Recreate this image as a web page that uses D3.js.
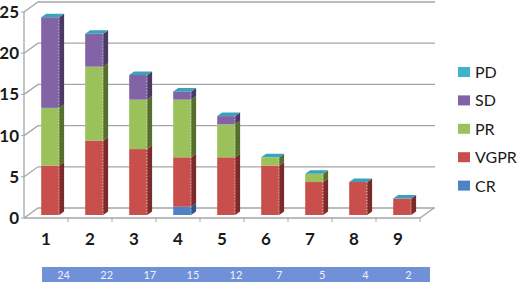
<!DOCTYPE html>
<html>
<head>
<meta charset="utf-8">
<script src="https://cdn.jsdelivr.net/npm/d3@7/dist/d3.min.js"></script>
<style>
  body { margin: 0; background: #fff; }
  svg { display: block; font-family: Lato, "Open Sans", sans-serif; }
</style>
</head>
<body>
<div id="chart"></div>
<script>
// data
var categories = ["1", "2", "3", "4", "5", "6", "7", "8", "9"];
var seriesNames = ["CR", "VGPR", "PR", "SD", "PD"];
var crValues   = [0, 0, 0, 1, 0, 0, 0, 0, 0];
var vgprValues = [6, 9, 8, 6, 7, 6, 4, 4, 2];
var prValues   = [7, 9, 6, 7, 4, 1, 1, 0, 0];
var sdValues   = [11, 4, 3, 1, 1, 0, 0, 0, 0];
var pdValues   = [0, 0, 0, 0, 0, 0, 0, 0, 0];
var totals     = [24, 22, 17, 15, 12, 7, 5, 4, 2];
var yTicks     = [0, 5, 10, 15, 20, 25];

var colors = {
    CR:   { front: "#4f81c6", side: "#2f5588", top: "#6f9ad6" },
    VGPR: { front: "#c94f4c", side: "#7c2b2b", top: "#d86a66" },
    PR:   { front: "#9bc15a", side: "#566f2e", top: "#b2d27a" },
    SD:   { front: "#8163a6", side: "#4c3a66", top: "#9b80bd" },
    PD:   { front: "#3fb2cc", side: "#22788c", top: "#3aa2bb" }
};

var width = 520, height = 282;

var svg = d3.select("#chart").append("svg")
    .attr("width", width)
    .attr("height", height);

// scales
var x = d3.scaleBand()
    .domain(categories)
    .range([24, 420]);

var y = d3.scaleLinear()
    .domain([0, 25])
    .range([218, 12]);

// depth of the 3D box (back wall offset)
var DX = 14, DY = -10;
var f0 = 0.3, f1 = 0.65;   // bar front/back depth fractions
var barW = 18;

var gridColor = "#a6a6a6";

// walls + gridlines
var grid = svg.append("g").attr("class", "grid");

grid.selectAll("polyline.gl")
    .data(yTicks)
    .enter().append("polyline")
    .attr("class", "gl")
    .attr("points", function(d){
        return [[24, y(d)], [24 + DX, y(d) + DY], [435, y(d) + DY]].join(" ");
    })
    .attr("fill", "none")
    .attr("stroke", gridColor)
    .attr("stroke-width", 1.3);

// left axis line and ticks
grid.append("line")
    .attr("x1", 24).attr("x2", 24)
    .attr("y1", y(0)).attr("y2", y(25))
    .attr("stroke", gridColor).attr("stroke-width", 1.3);

grid.selectAll("line.ytick")
    .data(yTicks)
    .enter().append("line")
    .attr("class", "ytick")
    .attr("x1", 21).attr("x2", 24)
    .attr("y1", function(d){ return y(d); })
    .attr("y2", function(d){ return y(d); })
    .attr("stroke", gridColor);

// floor front + right edge
grid.append("polyline")
    .attr("points", [[24, y(0)], [420, y(0)], [420 + DX, y(0) + DY]].join(" "))
    .attr("fill", "none")
    .attr("stroke", gridColor)
    .attr("stroke-width", 1.3);

var bounds = categories.map(function(c){ return x(c); }).concat([420]);
grid.selectAll("line.xtick")
    .data(bounds.slice(1))
    .enter().append("line")
    .attr("class", "xtick")
    .attr("x1", function(d){ return d; })
    .attr("x2", function(d){ return d; })
    .attr("y1", y(0)).attr("y2", y(0) + 4)
    .attr("stroke", gridColor);

// y labels
svg.selectAll("text.ylab")
    .data(yTicks)
    .enter().append("text")
    .attr("class", "ylab")
    .attr("x", 19)
    .attr("y", function(d){ return y(d) + 6; })
    .attr("text-anchor", "end")
    .attr("font-size", 17)
    .attr("font-weight", "bold")
    .attr("fill", "#1a1a1a")
    .text(function(d){ return d; });

// stacked data
var table = categories.map(function(c, i){
    return { cat: c, CR: crValues[i], VGPR: vgprValues[i], PR: prValues[i], SD: sdValues[i], PD: pdValues[i] };
});
var stack = d3.stack().keys(seriesNames)(table);

var bars = svg.append("g").attr("class", "bars");

var fx0 = DX * f0, fy0 = DY * f0;
var ddx = DX * (f1 - f0), ddy = DY * (f1 - f0);

stack.forEach(function(layer){
    var key = layer.key;
    layer.forEach(function(d, i){
        var left = x(d.data.cat) + (x.bandwidth() - barW) / 2 + fx0;
        var top = y(d[1]) + fy0;
        var bottom = y(d[0]) + fy0;
        var g = bars.append("g");
        if (d[1] > d[0]) {
            // front face
            g.append("rect")
                .attr("x", left).attr("y", top)
                .attr("width", barW).attr("height", bottom - top)
                .attr("fill", colors[key].front);
            // side face
            g.append("polygon")
                .attr("points", [[left + barW, top], [left + barW + ddx, top + ddy],
                                 [left + barW + ddx, bottom + ddy], [left + barW, bottom]].join(" "))
                .attr("fill", colors[key].side);
            g.append("line")
                .attr("x1", left + barW - 0.5).attr("x2", left + barW - 0.5)
                .attr("y1", top).attr("y2", bottom)
                .attr("stroke", "#fff").attr("stroke-opacity", 0.6)
                .attr("stroke-dasharray", "1,2");
        }
        // the top cap shows the last (zero height) series
        if (key === "PD") {
            g.append("polygon")
                .attr("points", [[left, top], [left + barW, top], [left + barW + ddx, top + ddy],
                                 [left + ddx, top + ddy]].join(" "))
                .attr("fill", colors[key].top);
        }
    });
});

// category labels
svg.selectAll("text.xlab")
    .data(categories)
    .enter().append("text")
    .attr("class", "xlab")
    .attr("x", function(d){ return x(d) + x.bandwidth() / 2; })
    .attr("y", 245)
    .attr("text-anchor", "middle")
    .attr("font-size", 17)
    .attr("font-weight", "bold")
    .attr("fill", "#1a1a1a")
    .text(function(d){ return d; });

// totals band
var xb = d3.scaleBand()
    .domain(categories)
    .range([42, 430]);

svg.append("rect")
    .attr("x", 42).attr("y", 267)
    .attr("width", 388).attr("height", 15)
    .attr("fill", "#7090d8");

svg.selectAll("text.total")
    .data(totals)
    .enter().append("text")
    .attr("class", "total")
    .attr("x", function(d, i){ return xb(categories[i]) + xb.bandwidth() / 2; })
    .attr("y", 279)
    .attr("text-anchor", "middle")
    .attr("font-size", 11)
    .attr("fill", "#eef2fc")
    .text(function(d){ return d; });

// legend
var legendOrder = ["PD", "SD", "PR", "VGPR", "CR"];
var legend = svg.selectAll("g.legend")
    .data(legendOrder)
    .enter().append("g")
    .attr("class", "legend")
    .attr("transform", function(d, i){ return "translate(458," + (72 + i * 28.4) + ")"; });

legend.append("rect")
    .attr("x", 0).attr("y", -5)
    .attr("width", 12).attr("height", 10)
    .attr("fill", function(d){ return colors[d].front; });

legend.append("text")
    .attr("x", 17)
    .attr("y", 6)
    .attr("font-size", 16)
    .attr("fill", "#1a1a1a")
    .text(function(d){ return d; });
</script>
</body>
</html>
